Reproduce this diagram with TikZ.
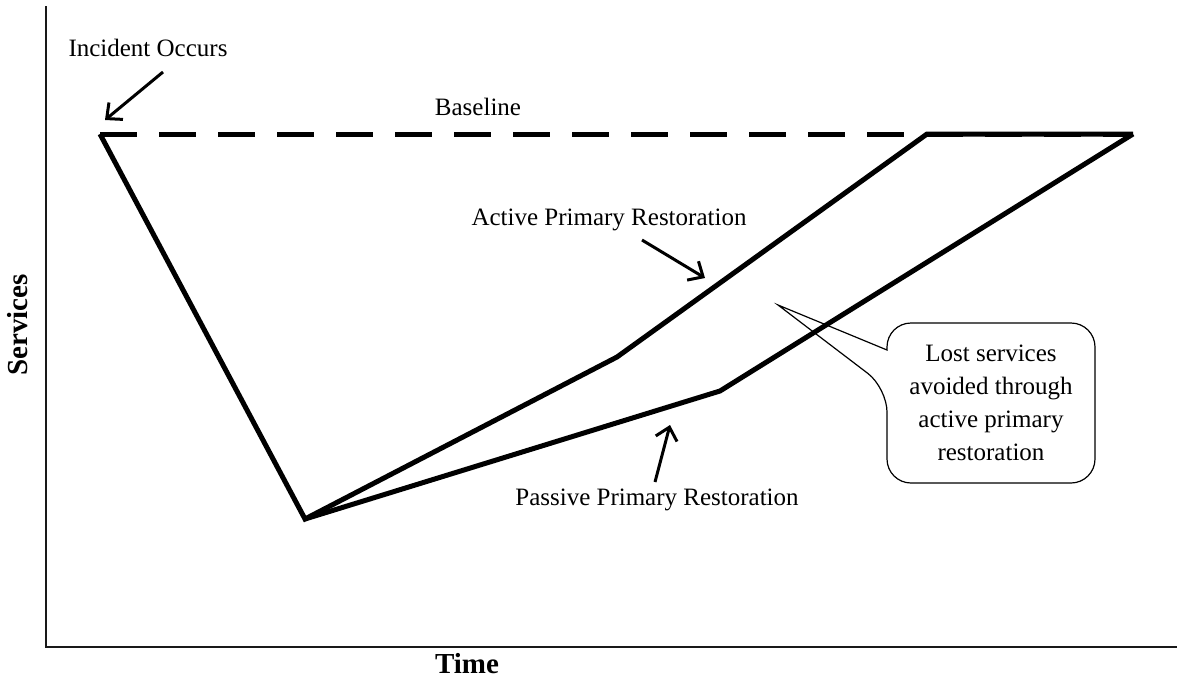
\documentclass[tikz,border=0pt]{standalone}
\usepackage{fontspec}
\setmainfont{Liberation Serif}
\usetikzlibrary{arrows.meta}
\begin{document}
\begin{tikzpicture}[x=1pt,y=-1pt,
  axis/.style={line width=2pt, draw=black!90},
  curve/.style={line width=5pt, line join=miter, line cap=butt},
  basedash/.style={line width=5pt, dash pattern=on 37pt off 22pt},
  lbl/.style={font=\fontsize{25}{29}\selectfont, inner sep=0pt},
  axlbl/.style={font=\fontsize{29}{33}\selectfont\bfseries, inner sep=0pt},
  pointer/.style={line width=3pt, -{Straight Barb[length=12pt,width=22pt,line width=3pt]}},
  callout/.style={line width=1.2pt, fill=white}]
\useasboundingbox (0,0) rectangle (1177,680);
% axes
\coordinate (ytop) at (46,6);
\coordinate (orig) at (46,647);
\coordinate (xend) at (1177,647);
\draw[axis] (ytop) -- (orig) -- (xend);
\node[axlbl, rotate=90] (services) at (18,325) {Services};
\node[axlbl] (time) at (467,664) {Time};
% key points
\coordinate (inc) at (100,134);
\coordinate (low) at (305,519);
\coordinate (akn) at (617,357);
\coordinate (atop) at (927,134);
\coordinate (pkn) at (720,391);
\coordinate (ptop) at (1133,134);
% callout
\coordinate (tip) at (778,305);
\draw[callout] (887,388) -- (tip) -- (887,350)
  [rounded corners=24pt] -- (887,323) -- (1095,323) -- (1095,483) -- (887,483) -- cycle;
\node[lbl, align=center, font=\fontsize{25}{33}\selectfont] (lost) at (991,403)
  {Lost services\\avoided through\\active primary\\restoration};
% baseline
\draw[basedash] (inc) -- (ptop);
% curves
\draw[curve] (inc) -- (low) -- (akn) -- (atop) -- (ptop);
\draw[curve] (low) -- (pkn) -- (ptop);
% labels
\node[lbl] (incl) at (148,48) {Incident Occurs};
\node[lbl] (basel) at (478,107) {Baseline};
\node[lbl] (actl) at (609,220) {Active Primary Restoration};
\node[lbl] (pasl) at (657,500) {Passive Primary Restoration};
% pointer arrows
\coordinate (ia0) at (163,72);
\coordinate (ia1) at (105,120);
\coordinate (aa0) at (642,240);
\coordinate (aa1) at (705,278);
\coordinate (pa0) at (655,482);
\coordinate (pa1) at (670,425);
\draw[pointer] (ia0) -- (ia1);
\draw[pointer] (aa0) -- (aa1);
\draw[pointer] (pa0) -- (pa1);
\end{tikzpicture}
\end{document}
